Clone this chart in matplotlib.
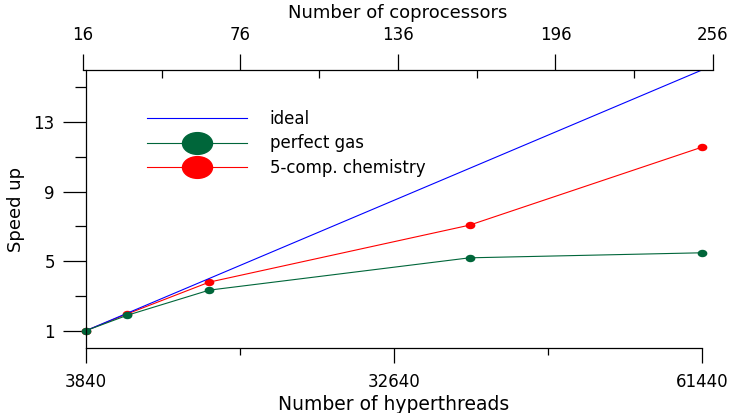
import numpy as np
import matplotlib.pyplot as plt
from matplotlib.path import Path
from matplotlib.transforms import Affine2D

plt.rcParams['font.family'] = ['DejaVu Sans']

# Data
threads = [3840, 7680, 15360, 39700, 61440]
ideal_x = [3840, 61440]
ideal_y = [1, 16]
perfect_gas = [1.0, 1.88, 3.33, 5.19, 5.48]
chemistry = [1.0, 1.96, 3.79, 7.07, 11.56]

x_ticks = [3840, 32640, 61440]
x_minor = [18240, 47040]
top_ticks = [16, 76, 136, 196, 256]
top_minor = [46, 106, 166, 226]
y_ticks = [1, 5, 9, 13]
y_minor = [3, 7, 11, 15]

blue = '#0000ff'
green = '#00663a'
red = '#ff0000'

# slightly wide ellipse marker, the original is stretched horizontally
ell = Path.unit_circle().transformed(Affine2D().scale(1.38, 1.0))

W, H = 732, 413
fig = plt.figure(figsize=(W / 100, H / 100), dpi=100)
ax = fig.add_axes([86 / W, 1 - 348 / H, (702 - 86) / W, (348 - 70) / H])

ax.plot(ideal_x, ideal_y, color=blue, lw=0.8, label='ideal')
ax.plot(threads, perfect_gas, color=green, lw=0.8, marker=ell, ms=6,
        label='perfect gas', clip_on=False)
ax.plot(threads, chemistry, color=red, lw=0.8, marker=ell, ms=6,
        label='5-comp. chemistry', clip_on=False, zorder=1.9)

ax.set_xlim(3840, 61440)
ax.set_ylim(0, 16)
ax.spines['right'].set_visible(False)
ax.spines['top'].set_visible(False)
for s in ax.spines.values():
    s.set_linewidth(0.9)

ax.set_xticks(x_ticks)
ax.set_xticks(x_minor, minor=True)
ax.set_yticks(y_ticks)
ax.set_yticks(y_minor, minor=True)
ax.tick_params(axis='x', which='major', length=11, width=0.9, pad=7, labelsize=12)
ax.tick_params(axis='x', which='minor', length=5, width=0.9)
ax.tick_params(axis='y', which='major', length=16.5, width=0.9, pad=6, labelsize=12)
ax.tick_params(axis='y', which='minor', length=8, width=0.9)

ax.set_xlabel('Number of hyperthreads', fontsize=13.5, labelpad=3)
ax.set_ylabel('Speed up', fontsize=13)
ax.yaxis.set_label_coords(-0.099, 0.5)

# top axis for the coprocessor count
ax2 = fig.add_axes([83 / W, 1 - 70 / H, (713 - 83) / W, 0.0001])
ax2.patch.set_visible(False)
for k in ['left', 'right', 'bottom']:
    ax2.spines[k].set_visible(False)
ax2.spines['top'].set_linewidth(0.9)
ax2.set_xlim(16, 256)
ax2.set_yticks([])
ax2.xaxis.tick_top()
ax2.xaxis.set_label_position('top')
ax2.set_xticks(top_ticks)
ax2.set_xticks(top_minor, minor=True)
ax2.tick_params(axis='x', which='major', direction='out', length=11.5, width=0.9,
                pad=7, labelsize=12)
ax2.tick_params(axis='x', which='minor', direction='in', length=5.8, width=0.9)
ax2.set_xlabel('Number of coprocessors', fontsize=13, labelpad=6)

leg = ax.legend(loc='upper left', bbox_to_anchor=(0.075, 0.91), frameon=False,
                fontsize=12, handlelength=6.0, handletextpad=1.35,
                labelspacing=0.38, markerscale=3.6)

fig.savefig('out.png', dpi=100)
